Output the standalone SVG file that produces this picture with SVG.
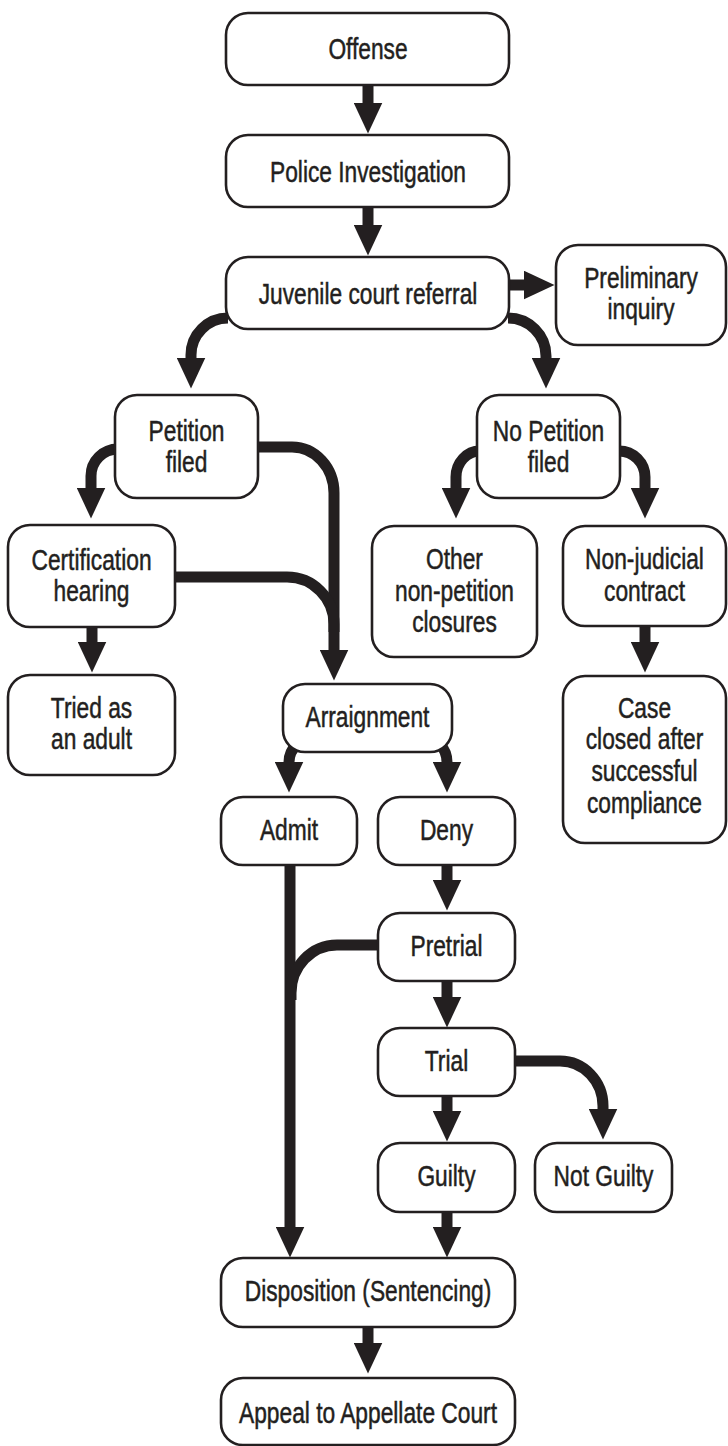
<svg xmlns="http://www.w3.org/2000/svg" width="728" height="1446" viewBox="0 0 728 1446">
<style>
.box{fill:#fff;stroke:#231f20;stroke-width:2.6}
.lbl{font-family:"Liberation Sans",Arial,sans-serif;font-size:29px;fill:#231f20;stroke:#231f20;stroke-width:0.5;text-anchor:middle}
.cn{fill:none;stroke:#231f20;stroke-width:11;stroke-linecap:butt;marker-end:url(#ah)}
.cn0{fill:none;stroke:#231f20;stroke-width:11;stroke-linecap:butt}
</style>
<defs>
<marker id="ah" markerUnits="userSpaceOnUse" markerWidth="31" markerHeight="29" viewBox="0 0 31 29" refX="0.5" refY="14.5" orient="auto"><path d="M0,0 L31,14.5 L0,29 Z" fill="#231f20"/></marker>
</defs>
<rect width="728" height="1446" fill="#fff"/>
<g id="connectors">
<path class="cn" d="M368,84 V103"/>
<path class="cn" d="M368,206 V225"/>
<path class="cn" d="M508,285 H524"/>
<path class="cn" d="M228,318 A37,37 0 0 0 191,355 V358"/>
<path class="cn" d="M508,318 A38,38 0 0 1 546,356 V358"/>
<path class="cn" d="M118,449 A27,27 0 0 0 91,476 V488"/>
<path class="cn" d="M92,626 V642"/>
<path class="cn" d="M257,447 H292 A42,46 0 0 1 334,493 V650"/>
<path class="cn0" d="M174,577 H287 A47,47 0 0 1 334,624 V632"/>
<path class="cn" d="M480,451 A24,26 0 0 0 456,477 V488"/>
<path class="cn" d="M619,451 A26,26 0 0 1 645,477 V488"/>
<path class="cn" d="M645,626 V642"/>
<path class="cn" d="M297,744 Q289,752 289,762"/>
<path class="cn" d="M440,744 Q447,752 447,762"/>
<path class="cn" d="M447,864 V880"/>
<path class="cn" d="M290,864 V1227"/>
<path class="cn0" d="M379,945 H337 A46,48 0 0 0 291,993 V1000"/>
<path class="cn" d="M447,980 V997"/>
<path class="cn" d="M447,1095 V1111"/>
<path class="cn" d="M514,1061 H560 A43,45 0 0 1 603,1106 V1109"/>
<path class="cn" d="M447,1211 V1227"/>
<path class="cn" d="M368,1326 V1343"/>
</g>
<g id="offense"><rect class="box" x="226" y="13" width="283" height="72" rx="22"/><text class="lbl" transform="matrix(0.785 0 0 1 368 0)" x="0" y="59">Offense</text></g>
<g id="police"><rect class="box" x="226" y="135" width="283" height="72" rx="22"/><text class="lbl" transform="matrix(0.785 0 0 1 368 0)" x="0" y="182">Police Investigation</text></g>
<g id="referral"><rect class="box" x="226" y="257" width="283" height="72" rx="22"/><text class="lbl" transform="matrix(0.785 0 0 1 368 0)" x="0" y="304">Juvenile court referral</text></g>
<g id="preliminary"><rect class="box" x="556" y="245" width="170" height="100" rx="22"/><text class="lbl" transform="matrix(0.785 0 0 1 641 0)" x="0" y="288">Preliminary</text><text class="lbl" transform="matrix(0.785 0 0 1 641 0)" x="0" y="319">inquiry</text></g>
<g id="petition"><rect class="box" x="115" y="395" width="143" height="103" rx="22"/><text class="lbl" transform="matrix(0.785 0 0 1 186.5 0)" x="0" y="441">Petition</text><text class="lbl" transform="matrix(0.785 0 0 1 186.5 0)" x="0" y="472">filed</text></g>
<g id="nopetition"><rect class="box" x="477" y="395" width="143" height="103" rx="22"/><text class="lbl" transform="matrix(0.785 0 0 1 548.5 0)" x="0" y="441">No Petition</text><text class="lbl" transform="matrix(0.785 0 0 1 548.5 0)" x="0" y="472">filed</text></g>
<g id="certification"><rect class="box" x="8" y="525" width="167" height="102" rx="22"/><text class="lbl" transform="matrix(0.785 0 0 1 91.5 0)" x="0" y="570">Certification</text><text class="lbl" transform="matrix(0.785 0 0 1 91.5 0)" x="0" y="601">hearing</text></g>
<g id="other"><rect class="box" x="372" y="526" width="165" height="131" rx="22"/><text class="lbl" transform="matrix(0.785 0 0 1 454.5 0)" x="0" y="569">Other</text><text class="lbl" transform="matrix(0.785 0 0 1 454.5 0)" x="0" y="601">non-petition</text><text class="lbl" transform="matrix(0.785 0 0 1 454.5 0)" x="0" y="632">closures</text></g>
<g id="nonjudicial"><rect class="box" x="563" y="526" width="163" height="100" rx="22"/><text class="lbl" transform="matrix(0.785 0 0 1 644.5 0)" x="0" y="569">Non-judicial</text><text class="lbl" transform="matrix(0.785 0 0 1 644.5 0)" x="0" y="601">contract</text></g>
<g id="tried"><rect class="box" x="8" y="675" width="167" height="100" rx="22"/><text class="lbl" transform="matrix(0.785 0 0 1 91.5 0)" x="0" y="718">Tried as</text><text class="lbl" transform="matrix(0.785 0 0 1 91.5 0)" x="0" y="749">an adult</text></g>
<g id="caseclosed"><rect class="box" x="563" y="676" width="163" height="167" rx="22"/><text class="lbl" transform="matrix(0.785 0 0 1 644.5 0)" x="0" y="718">Case</text><text class="lbl" transform="matrix(0.785 0 0 1 644.5 0)" x="0" y="749">closed after</text><text class="lbl" transform="matrix(0.785 0 0 1 644.5 0)" x="0" y="781">successful</text><text class="lbl" transform="matrix(0.785 0 0 1 644.5 0)" x="0" y="813">compliance</text></g>
<g id="arraignment"><rect class="box" x="283" y="684" width="169" height="68" rx="22"/><text class="lbl" transform="matrix(0.785 0 0 1 367.5 0)" x="0" y="727">Arraignment</text></g>
<g id="admit"><rect class="box" x="221" y="797" width="136" height="68" rx="22"/><text class="lbl" transform="matrix(0.785 0 0 1 289 0)" x="0" y="840">Admit</text></g>
<g id="deny"><rect class="box" x="378" y="797" width="137" height="68" rx="22"/><text class="lbl" transform="matrix(0.785 0 0 1 446.5 0)" x="0" y="840">Deny</text></g>
<g id="pretrial"><rect class="box" x="378" y="913" width="137" height="68" rx="22"/><text class="lbl" transform="matrix(0.785 0 0 1 446.5 0)" x="0" y="956">Pretrial</text></g>
<g id="trial"><rect class="box" x="378" y="1028" width="137" height="68" rx="22"/><text class="lbl" transform="matrix(0.785 0 0 1 446.5 0)" x="0" y="1071">Trial</text></g>
<g id="guilty"><rect class="box" x="378" y="1143" width="137" height="69" rx="22"/><text class="lbl" transform="matrix(0.785 0 0 1 446.5 0)" x="0" y="1186">Guilty</text></g>
<g id="notguilty"><rect class="box" x="535" y="1143" width="137" height="69" rx="22"/><text class="lbl" transform="matrix(0.785 0 0 1 603.5 0)" x="0" y="1186">Not Guilty</text></g>
<g id="disposition"><rect class="box" x="221" y="1258" width="294" height="69" rx="22"/><text class="lbl" transform="matrix(0.785 0 0 1 368 0)" x="0" y="1301">Disposition (Sentencing)</text></g>
<g id="appeal"><rect class="box" x="221" y="1378" width="294" height="67" rx="22"/><text class="lbl" transform="matrix(0.785 0 0 1 368 0)" x="0" y="1423">Appeal to Appellate Court</text></g>
</svg>
